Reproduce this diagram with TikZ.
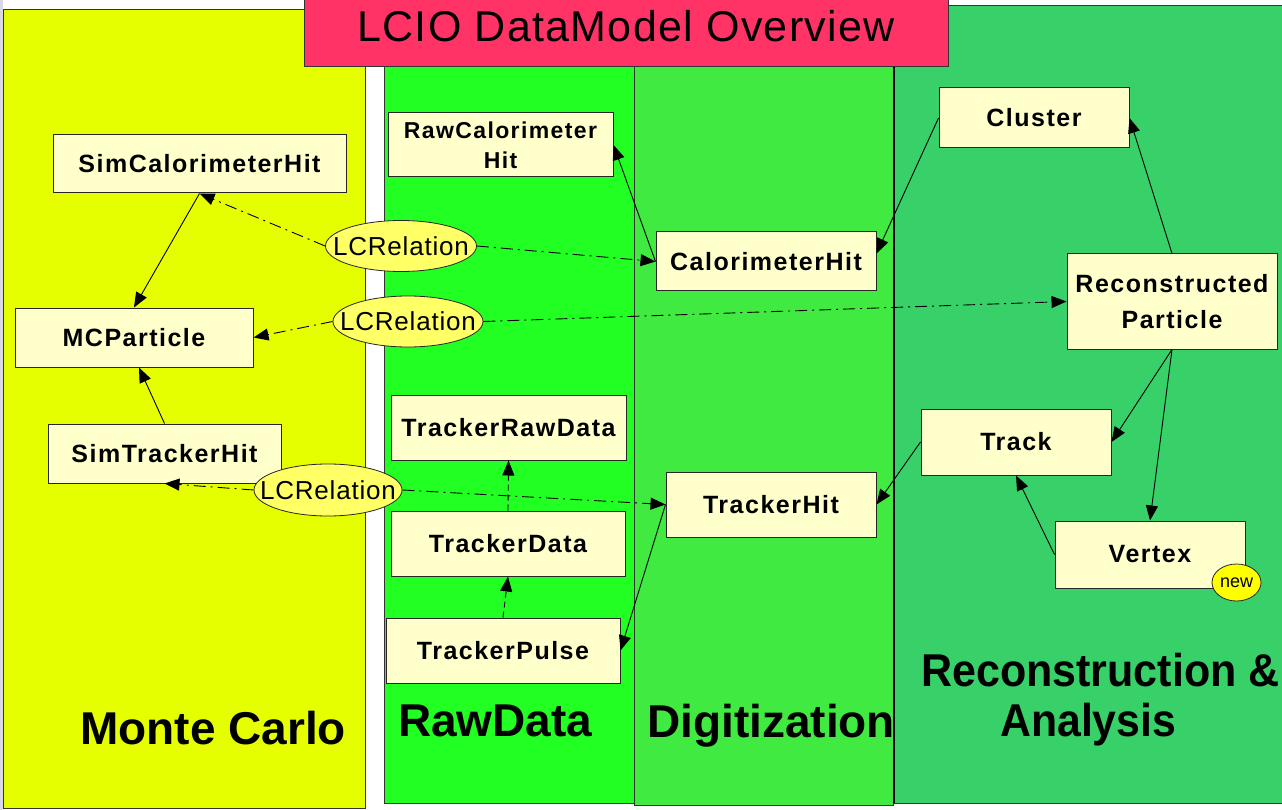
\documentclass[tikz,border=0pt]{standalone}
\usepackage{fontspec}
\setmainfont{Liberation Sans}
\newfontfamily\boxfam{Liberation Sans}[LetterSpace=6]
\newfontfamily\relfam{Liberation Sans}[LetterSpace=3]
\newfontfamily\titlefam{Liberation Sans}[LetterSpace=3]
\usetikzlibrary{shapes.geometric,arrows.meta,calc}
\definecolor{mcyellow}{RGB}{229,255,0}
\definecolor{rawgreen}{RGB}{34,255,34}
\definecolor{diggreen}{RGB}{64,234,64}
\definecolor{recogreen}{RGB}{56,208,104}
\definecolor{titlered}{RGB}{255,51,102}
\definecolor{boxfill}{RGB}{255,255,204}
\definecolor{relfill}{RGB}{255,255,102}
\definecolor{newfill}{RGB}{255,255,0}
\definecolor{stripgray}{RGB}{215,215,232}
\begin{document}
\begin{tikzpicture}[x=1pt,y=-1pt,
  panel/.style={draw=black!80, line width=1pt},
  cbox/.style={draw=black!85, fill=boxfill, line width=1pt, inner sep=0pt,
    font=\boxfam\bfseries\fontsize{25}{30}\selectfont, align=center},
  relshape/.style={ellipse, draw=black!85, fill=relfill, line width=0.8pt, inner sep=0pt},
  reltext/.style={inner sep=0pt, font=\relfam\fontsize{26}{30}\selectfont},
  sol/.style={line width=0.9pt, -{Triangle[length=15pt,width=12pt]}},
  dd/.style={sol, dash pattern=on 12pt off 5pt on 2pt off 5pt},
  dsh/.style={sol, dash pattern=on 6pt off 4pt},
  big/.style={font=\bfseries\fontsize{46}{50}\selectfont, anchor=base west, inner sep=0pt}]
\useasboundingbox (0,0) rectangle (1282,810);
\fill[white] (0,0) rectangle (1282,810);
\fill[stripgray] (0,0) rectangle (3,810);
% panels
\path[panel, fill=mcyellow] (3,10) rectangle (365,808);
\path[panel, fill=rawgreen] (384,60) rectangle (634,803);
\path[panel, fill=diggreen] (634,60) rectangle (893,805);
\path[panel, fill=recogreen] (894,6) rectangle (1285,803);
\draw[line width=2pt] (894,60) -- (894,803);
% title
\path[panel, fill=titlered] (304,-2) rectangle (948,67);
\node[font=\titlefam\fontsize{43}{48}\selectfont, anchor=base, inner sep=0pt] (title) at (626,42) {LCIO DataModel Overview};
% panel labels
\node[big] (lmc) at (80,744) {Monte Carlo};
\node[big] (lraw) at (398,736) {RawData};
\node[big] (ldig) at (647,737) {Digitization};
\node[big] (lreco1) at (921,686) {\scalebox{0.935}[1]{Reconstruction \&}};
\node[big] (lreco2) at (1000,736) {\scalebox{0.93}[1]{Analysis}};
% boxes
\node[cbox, minimum width=293, minimum height=58] (simcal) at (199.5,164) {SimCalorimeterHit};
\node[cbox, minimum width=238, minimum height=59] (mcp) at (134,337.5) {MCParticle};
\node[cbox, minimum width=233, minimum height=59] (simtrk) at (164.5,453.5) {SimTrackerHit};
\node[cbox, minimum width=225, minimum height=64, font=\boxfam\bfseries\fontsize{23}{30}\selectfont] (rawcal) at (500.5,145) {RawCalorimeter\\Hit};
\node[cbox, minimum width=220, minimum height=59] (calhit) at (766,261.5) {CalorimeterHit};
\node[cbox, minimum width=235, minimum height=65] (trkraw) at (508.5,427.5) {TrackerRawData};
\node[cbox, minimum width=234, minimum height=65] (trkdata) at (508,543.5) {TrackerData};
\node[cbox, minimum width=234, minimum height=65] (trkpulse) at (503,650.5) {TrackerPulse};
\node[cbox, minimum width=210, minimum height=65] (trkhit) at (771,504.5) {TrackerHit};
\node[cbox, minimum width=190, minimum height=60] (cluster) at (1034,118) {Cluster};
\node[cbox, minimum width=210, minimum height=95, font=\boxfam\bfseries\fontsize{25}{36}\selectfont] (reco) at (1172,301.5) {Reconstructed\\Particle};
\node[cbox, minimum width=190, minimum height=66] (track) at (1016,442) {Track};
\node[cbox, minimum width=190, minimum height=67] (vertex) at (1150,554.5) {Vertex};
\node[ellipse, draw=black!85, fill=newfill, line width=0.8pt, inner sep=0pt, minimum width=49, minimum height=37] (new) at (1236.5,582.5) {};
\node[inner sep=0pt, font=\fontsize{18}{20}\selectfont] (newtext) at (new.center) {new};
% relations
\node[relshape, minimum width=151, minimum height=51] (rel1) at (401,246) {};
\node[reltext] (rel1t) at (rel1.center) {LCRelation};
\node[relshape, minimum width=150, minimum height=51] (rel2) at (408,321.5) {};
\node[reltext] (rel2t) at (rel2.center) {LCRelation};
\node[relshape, minimum width=148, minimum height=52] (rel3) at (328,490) {};
\node[reltext] (rel3t) at (rel3.center) {LCRelation};
% connectors
\draw[sol] (simcal.south) -- (mcp.north);
\draw[sol] (simtrk.north) -- ([xshift=5]mcp.south);
\draw[dd] (rel1.west) -- (simcal.south);
\draw[dd] (rel1.east) -- (calhit.west);
\draw[dd] (rel2.west) -- (mcp.east);
\draw[dd] (rel2.east) -- (reco.west);
\draw[dd] (rel3.west) -- (simtrk.south);
\draw[dd] (rel3.east) -- (trkhit.west);
\draw[sol] (calhit.west) -- (rawcal.east);
\draw[sol] (cluster.west) -- ([yshift=8]calhit.east);
\draw[sol] (reco.north) -- (cluster.east);
\draw[sol] (reco.south) -- (track.east);
\draw[sol] (reco.south) -- (vertex.north);
\draw[sol] (vertex.west) -- (track.south);
\draw[sol] (track.west) -- (trkhit.east);
\draw[sol] (trkhit.west) -- (trkpulse.east);
\draw[dsh] (trkpulse.north) -- (trkdata.south);
\draw[dsh] (trkdata.north) -- (trkraw.south);
\end{tikzpicture}
\end{document}
